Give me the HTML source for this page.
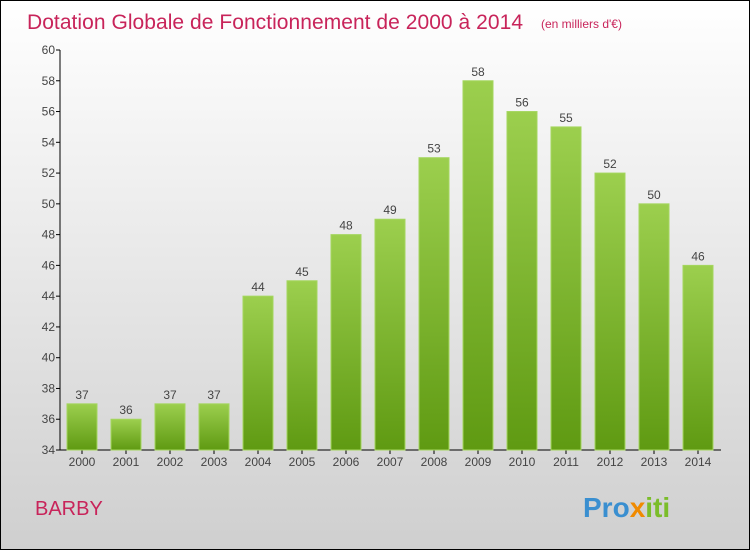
<!DOCTYPE html>
<html><head><meta charset="utf-8"><style>
body{margin:0;}
#wrap{width:748px;height:548px;border:1px solid #000;background:linear-gradient(#ffffff,#cfcfcf);position:relative;font-family:"Liberation Sans",sans-serif;}
</style></head><body>
<div id="wrap">
<svg id="chart" width="748" height="548">
<defs><linearGradient id="g" x1="0" y1="0" x2="0" y2="1"><stop offset="0" stop-color="#9ccf4e"/><stop offset="1" stop-color="#5f9a12"/></linearGradient></defs>
<text x="26" y="28" font-size="21" fill="#c8245a" textLength="496">Dotation Globale de Fonctionnement de 2000 à 2014</text>
<text x="540" y="27" font-size="12" fill="#c8245a">(en milliers d'€)</text>
<text x="34" y="514" font-size="20" fill="#c8245a">BARBY</text>
<text x="582" y="516" font-size="28" font-weight="bold" fill="#3a8fd0">Pro<tspan fill="#f08a00">x</tspan><tspan fill="#7bbd2a">iti</tspan></text>
<g id="axes"></g><g id="bars"></g>
</svg></div>
<script>
const years=["2000","2001","2002","2003","2004","2005","2006","2007","2008","2009","2010","2011","2012","2013","2014"];
const values=[37,36,37,37,44,45,48,49,53,58,56,55,52,50,46];
const yTicks=[34,36,38,40,42,44,46,48,50,52,54,56,58,60];
const NS="http://www.w3.org/2000/svg";
const y0=449,y1=49,vmin=34,vmax=60,x0=59,step=44,bw=30;
const ys=v=>y0-(v-vmin)/(vmax-vmin)*(y0-y1);
const xc=i=>x0+22+i*step;
function mk(t,a,p){const e=document.createElementNS(NS,t);for(const k in a)e.setAttribute(k,a[k]);p.appendChild(e);return e;}
const ax=document.getElementById('axes'),bs=document.getElementById('bars');
const yl=mk('line',{x1:x0,y1:y1,x2:x0,y2:y0,stroke:'#000'},ax);


const xl=mk('line',{x1:x0,y1:y0,x2:x0+15*step+1,y2:y0,stroke:'#000'},ax);


yTicks.forEach(v=>{
 mk('line',{x1:x0-4,y1:ys(v),x2:x0,y2:ys(v),stroke:'#000'},ax);
 const t=mk('text',{x:x0-5,y:ys(v)+4,'font-size':12,fill:'#444','text-anchor':'end'},ax);
 t.textContent=v;
 
 
});
years.forEach((yr,i)=>{
 const v=values[i];
 const r=mk('rect',{x:xc(i)-bw/2,y:ys(v),width:bw,height:y0-ys(v),fill:'url(#g)',stroke:'#a4d65e','stroke-width':1},bs);
 
 
 mk('line',{x1:xc(i),y1:y0,x2:xc(i),y2:y0+4,stroke:'#000'},ax);
 const t=mk('text',{x:xc(i),y:y0+16,'font-size':12,fill:'#444','text-anchor':'middle'},ax);
 t.textContent=yr;
 
 
 const l=mk('text',{x:xc(i),y:ys(v)-5,'font-size':12,fill:'#444','text-anchor':'middle'},bs);
 l.textContent=v;
 
 
});
</script>
</body></html>
